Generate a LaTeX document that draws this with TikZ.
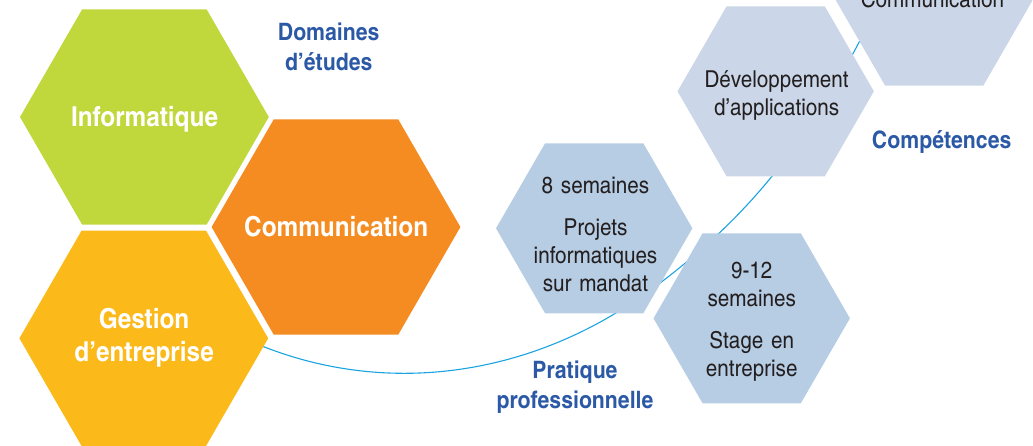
\documentclass[tikz,border=0pt]{standalone}
\usepackage{fontspec}
\setmainfont{texgyreheroscn}[Extension=.otf, UprightFont=*-regular, BoldFont=*-bold, ItalicFont=*-italic, BoldItalicFont=*-bolditalic, FakeStretch=1.08]
\newfontfamily\cellfont{texgyreheroscn}[Extension=.otf, UprightFont=*-regular, BoldFont=*-bold, FakeStretch=1.08, WordSpace=0.8]
\usepackage{xcolor}
\usetikzlibrary{hobby}

\definecolor{domgreen}{RGB}{192,216,60}
\definecolor{domorange}{RGB}{245,140,34}
\definecolor{domyellow}{RGB}{251,185,26}
\definecolor{pratblue}{RGB}{183,205,228}
\definecolor{compblue}{RGB}{203,215,232}
\definecolor{titleblue}{RGB}{43,89,166}
\definecolor{textdark}{RGB}{35,31,32}
\definecolor{arcblue}{RGB}{26,163,224}

% flat-topped hexagon: centre x, centre y, radius, fill
\newcommand{\hexcell}[4]{%
  \fill[#4] ({#1-#3},#2) -- ({#1-#3/2},{#2-0.866*#3}) -- ({#1+#3/2},{#2-0.866*#3})
    -- ({#1+#3},#2) -- ({#1+#3/2},{#2+0.866*#3}) -- ({#1-#3/2},{#2+0.866*#3}) -- cycle;}

\tikzset{
  txt/.style={inner sep=0pt, anchor=base, text width=200pt, align=center},
  domtext/.style={txt, text=white, font=\fontsize{27.5}{33.4}\selectfont\bfseries},
  titletext/.style={txt, text=titleblue, font=\fontsize{24}{30}\selectfont\bfseries},
  celltext/.style={txt, text=textdark, font=\cellfont\fontsize{23.3}{28.3}\selectfont},
  arcline/.style={draw=arcblue, line width=1.1pt}
}

\begin{document}
\begin{tikzpicture}[x=1pt,y=1pt,yscale=-1,xscale=1]
\clip (0,0) rectangle (1033,445);

% the thread behind the cells
\coordinate (a0) at (250,341);
\coordinate (a1) at (403,373.3);
\coordinate (a2) at (610,316.5);
\coordinate (a3) at (673,273);
\coordinate (a4) at (747,205);
\coordinate (a5) at (856,48);
\coordinate (a6) at (880,0);
\draw[arcline, use Hobby shortcut] (a0) .. (a1) .. (a2) .. (a3) .. (a4) .. (a5) .. (a6);

% Domaines d'etudes
\hexcell{144.4}{117}{124.4}{domgreen}
\hexcell{336}{227}{124.4}{domorange}
\hexcell{143.8}{338.3}{124.4}{domyellow}

% Pratique professionnelle
\hexcell{594.2}{228.3}{98.2}{pratblue}
\hexcell{751.7}{318.3}{98.2}{pratblue}

% Competences
\hexcell{775.7}{91.3}{98.2}{compblue}
\hexcell{934.2}{0.6}{98.2}{compblue}

% Text Node
\node[domtext] (informatique) at (144.6,126.7) {Informatique};
\node[domtext] (communication) at (336.2,236.7) {Communication};
\node[domtext] (gestion) at (144.1,328.3) {Gestion\\d’entreprise};

\node[titletext] (domaines) at (328.7,40) {Domaines\\d’études};
\node[titletext] (competences) at (941.7,148.3) {Compétences};
\node[titletext] (pratique) at (575,378.3) {Pratique\\professionnelle};

\node[celltext] (projets) at (595.5,193.3) {8 semaines\\[13.4pt]Projets\\informatiques\\sur mandat};
\node[celltext] (stage) at (751.7,278.3) {9-12\\semaines\\[13.2pt]Stage en\\entreprise};
\node[celltext] (developpement) at (776.6,87.3) {Développement\\d’applications};
\node[celltext] (commcell) at (932.5,7.3) {Communication};

\end{tikzpicture}
\end{document}
